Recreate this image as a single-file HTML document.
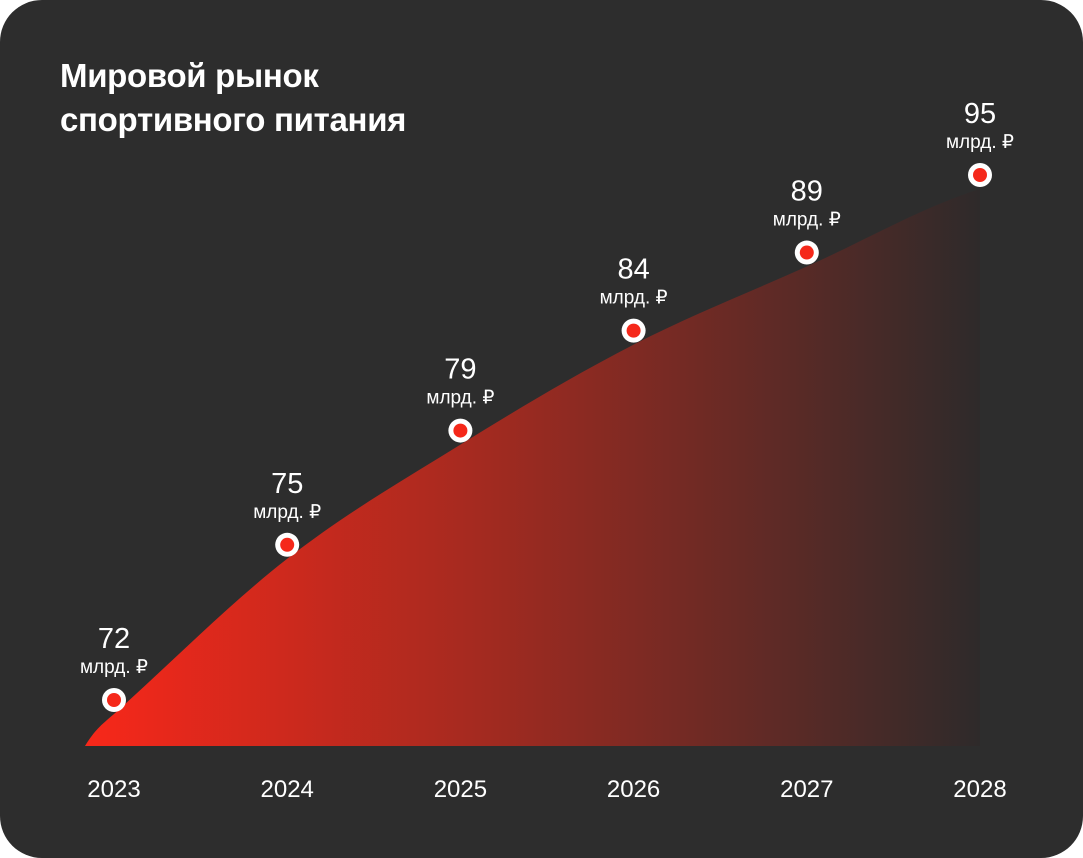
<!DOCTYPE html>
<html><head><meta charset="utf-8"><style>
html,body{margin:0;padding:0;background:#fff;}
#card{position:absolute;left:0;top:0;width:1083px;height:858px;background:#2d2d2d;border-radius:42px;overflow:hidden;font-family:"Liberation Sans","Noto Sans CJK SC",sans-serif;color:#fff;}
#title{position:absolute;left:60px;top:54px;font-size:33px;font-weight:bold;line-height:44px;letter-spacing:-0.3px;}
svg{position:absolute;left:0;top:0;}
</style></head><body>
<div id="card">
<div id="title">Мировой рынок<br>спортивного питания</div>
<svg id="chart" width="1083" height="858">
<defs><linearGradient id="g" x1="0" x2="1" y1="0" y2="0">
<stop offset="0" stop-color="#f8281a"/><stop offset="0.45" stop-color="#a22a20"/><stop offset="1" stop-color="#2e2a2a"/></linearGradient></defs>
</svg>
</div>
<script>
const years=["2023","2024","2025","2026","2027","2028"];
const values=[72,75,79,84,89,95];
const unitLabel="млрд. ₽";
const svg=document.getElementById('chart');
const NS="http://www.w3.org/2000/svg";
const x0=114,x1=980,yBase=746;
function xs(i){return x0+(x1-x0)*i/(years.length-1);}
function ys(v){const lo=71,hi=95,p=0.38;const t=(Math.pow(Math.max(v-lo,0),p)-1)/(Math.pow(hi-lo,p)-1);return 700-525*t;}
function mk(tag,attrs){const e=document.createElementNS(NS,tag);for(const k in attrs)e.setAttribute(k,attrs[k]);svg.appendChild(e);return e;}
const pts=values.map((v,i)=>[xs(i),ys(v)+14]);
let d=`M85,${yBase} C95,730 100,${pts[0][1]+12} ${pts[0][0]},${pts[0][1]}`;
for(let i=1;i<pts.length;i++){const a=pts[i-1],b=pts[i];const dx=(b[0]-a[0])/3;
const s0=i>1?(b[1]-pts[i-2][1])/(b[0]-pts[i-2][0]):(b[1]-a[1])/(b[0]-a[0]);
const s1=i<pts.length-1?(pts[i+1][1]-a[1])/(pts[i+1][0]-a[0]):(b[1]-a[1])/(b[0]-a[0])*0.7;
d+=` C${a[0]+dx},${a[1]+s0*dx} ${b[0]-dx},${b[1]-s1*dx} ${b[0]},${b[1]}`;}
d+=` L${pts[pts.length-1][0]},${yBase} Z`;
const area=mk('path',{d:d,fill:'url(#g)'});


values.forEach((v,i)=>{
 const x=xs(i),y=ys(v);
 const ring=mk('circle',{cx:x,cy:y,r:12,fill:'#fff'});
 
 
 const dot=mk('circle',{cx:x,cy:y,r:7,fill:'#f5281a'});
 
 
 const vt=mk('text',{x:x,y:y-52,'text-anchor':'middle','font-size':29,fill:'#fff'});
 vt.textContent=v;
 
 
 const ut=mk('text',{x:x,y:y-27,'text-anchor':'middle','font-size':19,fill:'#fff'});
 ut.textContent=unitLabel;
 
 
 const yt=mk('text',{x:x,y:797,'text-anchor':'middle','font-size':24,fill:'#fff'});
 yt.textContent=years[i];
 
 
});
</script>
</body></html>
